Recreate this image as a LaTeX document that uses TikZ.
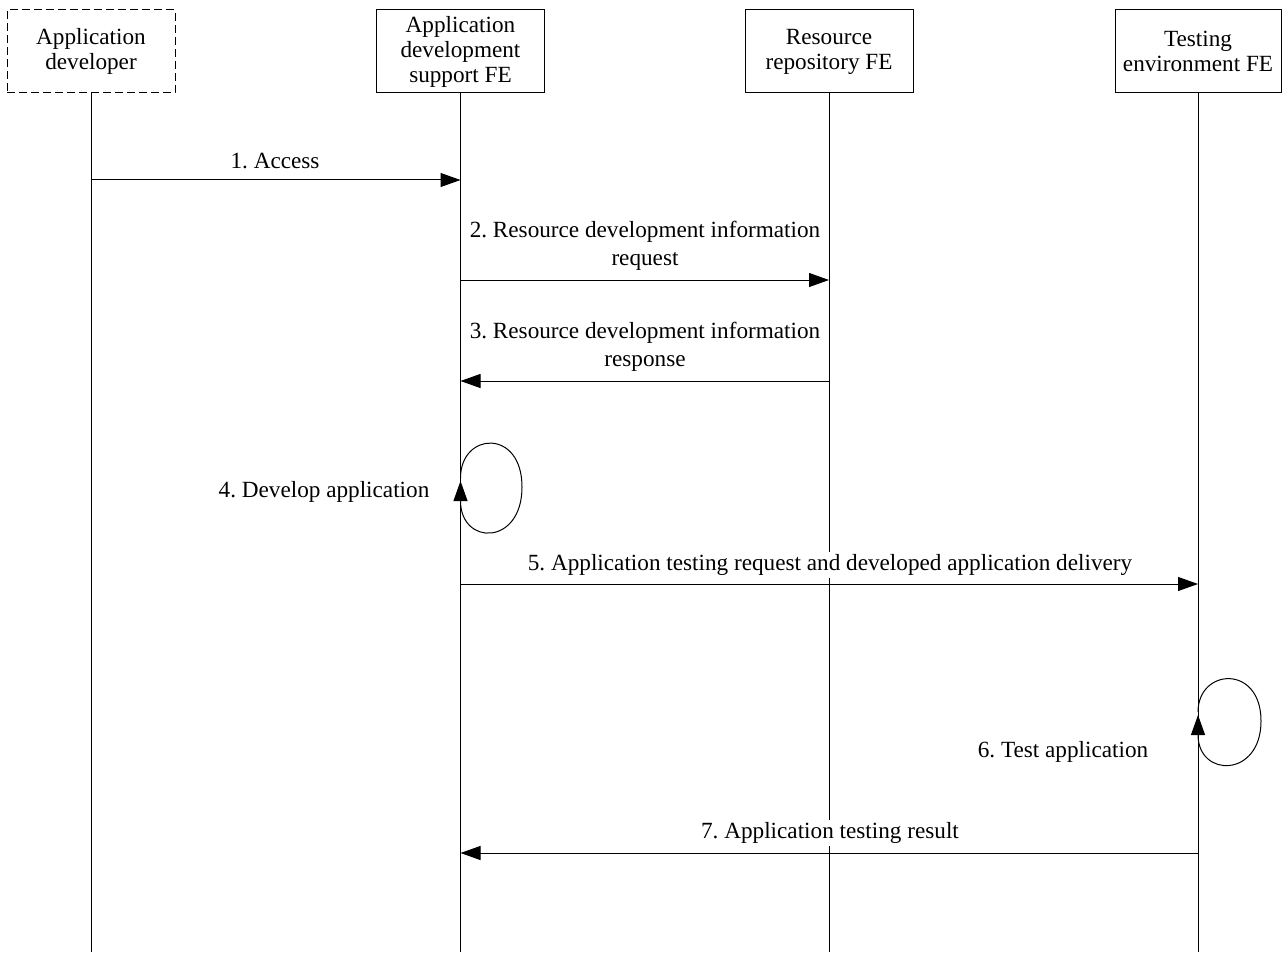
\documentclass[tikz,border=0pt]{standalone}
\usepackage{fontspec}
\setmainfont{Liberation Serif}
\usetikzlibrary{arrows.meta}
\begin{document}
\frenchspacing
\begin{tikzpicture}[x=0.5pt,y=-0.5pt,
  every node/.style={font=\fontsize{11.6}{12.5}\selectfont},
  fe/.style={draw,line width=0.5pt,minimum width=84pt,minimum height=41.5pt,inner sep=0pt,align=center},
  life/.style={line width=0.5pt},
  msg/.style={line width=0.5pt,-{Triangle[length=10pt,width=7pt]}},
  lbl/.style={fill=white,inner sep=1pt,align=center,font=\fontsize{11.6}{14}\selectfont},
  loop/.style={line width=0.5pt,-{Triangle[length=10pt,width=7pt]}}]
\useasboundingbox (0,0) rectangle (1283,952);
% boxes
\node[fe,dashed,dash pattern=on 4pt off 2pt] (ad) at (91,51.5) {Application\\developer};
\node[fe] (ads) at (460.5,51.5) {Application\\development\\support FE};
\node[fe] (rr) at (829,51.5) {Resource\\repository FE};
\node[fe,minimum width=83pt] (te) at (1198,51.5) {Testing\\environment FE};
% lifeline ends
\coordinate (adE) at (91,952);
\coordinate (adsE) at (460.5,952);
\coordinate (rrE) at (829,952);
\coordinate (teE) at (1198,952);
\draw[life] (ad.south) -- (adE);
\draw[life] (ads.south) -- (adsE);
\draw[life] (rr.south) -- (rrE);
\draw[life] (te.south) -- (teE);
% message points
\coordinate (m1a) at (91,180);   \coordinate (m1b) at (460.5,180);
\coordinate (m2a) at (460.5,280); \coordinate (m2b) at (829,280);
\coordinate (m3a) at (829,381);  \coordinate (m3b) at (460.5,381);
\coordinate (m5a) at (460.5,584); \coordinate (m5b) at (1198,584);
\coordinate (m7a) at (1198,853); \coordinate (m7b) at (460.5,853);
\draw[msg] (m1a) -- (m1b);
\draw[msg] (m2a) -- (m2b);
\draw[msg] (m3a) -- (m3b);
\draw[msg] (m5a) -- (m5b);
\draw[msg] (m7a) -- (m7b);
% labels
\node[lbl] (l1) at (275,161) {1. Access};
\node[lbl] (l2) at (645,246) {2. Resource development information\\request};
\node[lbl] (l3) at (645,347) {3. Resource development information\\response};
\node[lbl] (l5) at (830,565) {5. Application testing request and developed application delivery};
\node[lbl] (l7) at (830,833) {7. Application testing result};
% self loops
\coordinate (s4) at (460.5,478);
\coordinate (e4) at (460.5,481);
\draw[loop] (s4) .. controls (460.5,432) and (522,428) .. (522,487) .. controls (522,546) and (460.5,546) .. (e4);
\node[lbl] (l4) at (324,492) {4. Develop application};
\coordinate (s6) at (1198,712);
\coordinate (e6) at (1198,715);
\draw[loop] (s6) .. controls (1198,668) and (1261,664) .. (1261,721) .. controls (1261,778) and (1198,778) .. (e6);
\node[lbl] (l6) at (1063,752) {6. Test application};
\end{tikzpicture}
\end{document}
